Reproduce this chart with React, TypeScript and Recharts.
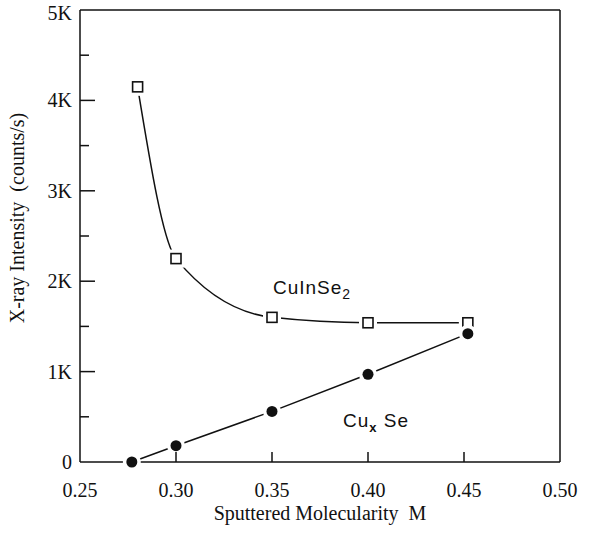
import { ComposedChart, Line, XAxis, YAxis, ReferenceDot } from "recharts";

// CuInSe2 (open squares)
const cuInSe2X = [0.28, 0.3, 0.35, 0.4, 0.452];
const cuInSe2Y = [4150, 2250, 1600, 1540, 1540];

// CuxSe (filled circles)
const cuSeX = [0.277, 0.3, 0.35, 0.4, 0.452];
const cuSeY = [0, 180, 560, 970, 1420];

const xTicks = [0.25, 0.3, 0.35, 0.4, 0.45, 0.5];
const yTicks = [0, 500, 1000, 1500, 2000, 2500, 3000, 3500, 4000, 4500, 5000];

const cuInSe2 = cuInSe2X.map((x, i) => ({ x, y: cuInSe2Y[i] }));
const cuSe = cuSeX.map((x, i) => ({ x, y: cuSeY[i] }));

const SERIF = "'Liberation Serif', 'Times New Roman', serif";
const SANS = "'Liberation Sans', Arial, sans-serif";
const INK = "#111";

const inner = (v: number) => v > 0.26 && v < 0.49;

const BottomTick = ({ x, y, payload }: any) => (
  <g>
    {inner(payload.value) && (
      <line x1={x} x2={x} y1={y} y2={y - 10} stroke={INK} strokeWidth={1.5} />
    )}
    <text
      x={x}
      y={y + 35}
      textAnchor="middle"
      fontFamily={SERIF}
      fontSize={20}
      fill={INK}
    >
      {payload.value.toFixed(2)}
    </text>
  </g>
);

const TopTick = ({ x, y, payload }: any) =>
  inner(payload.value) ? (
    <line x1={x} x2={x} y1={y} y2={y + 10} stroke={INK} strokeWidth={1.5} />
  ) : (
    <g />
  );

const LeftTick = ({ x, y, payload }: any) => {
  const v = payload.value;
  const major = v % 1000 === 0;
  return (
    <g>
      {v > 0 && v < 5000 && (
        <line
          x1={x}
          x2={x + (major ? 15 : 9)}
          y1={y}
          y2={y}
          stroke={INK}
          strokeWidth={1.5}
        />
      )}
      {major && (
        <text
          x={x - 8}
          y={y}
          dy={v === 5000 ? 10 : 7}
          textAnchor="end"
          fontFamily={SERIF}
          fontSize={20}
          fill={INK}
        >
          {v === 0 ? "0" : `${v / 1000}K`}
        </text>
      )}
    </g>
  );
};

const RightTick = ({ x, y, payload }: any) => {
  const v = payload.value;
  if (v <= 0 || v >= 5000) return <g />;
  const major = v % 1000 === 0;
  return (
    <line
      x1={x}
      x2={x - (major ? 15 : 9)}
      y1={y}
      y2={y}
      stroke={INK}
      strokeWidth={1.5}
    />
  );
};

const SquareDot = ({ cx, cy }: any) => (
  <g>
    <rect x={cx - 9} y={cy - 9} width={18} height={18} fill="#fff" />
    <rect
      x={cx - 5}
      y={cy - 5}
      width={10}
      height={10}
      fill="#fff"
      stroke={INK}
      strokeWidth={1.6}
    />
  </g>
);

const CircleDot = ({ cx, cy }: any) => (
  <g>
    <circle cx={cx} cy={cy} r={9} fill="#fff" />
    <circle cx={cx} cy={cy} r={5.5} fill={INK} />
  </g>
);

const App = () => {
  return (
    <div style={{ position: "absolute", left: 0, top: 0, background: "#fff" }}>
      <ComposedChart
        width={589}
        height={536}
        margin={{ top: 9, right: 28, bottom: 4, left: 0 }}
      >
        <XAxis
          xAxisId="b"
          dataKey="x"
          type="number"
          domain={[0.25, 0.5]}
          ticks={xTicks}
          height={70}
          tickSize={0}
          tickMargin={0}
          tickLine={false}
          tick={BottomTick}
          axisLine={{ stroke: INK, strokeWidth: 1.5 }}
          label={{
            content: ({ viewBox }: any) => (
              <text
                x={viewBox.x + viewBox.width / 2}
                y={viewBox.y + 58}
                textAnchor="middle"
                fontFamily={SERIF}
                fontSize={20}
                fill={INK}
              >
                Sputtered Molecularity{"\u00a0\u00a0"}M
              </text>
            ),
          }}
        />
        <XAxis
          xAxisId="t"
          orientation="top"
          type="number"
          domain={[0.25, 0.5]}
          ticks={xTicks}
          height={1}
          tickSize={0}
          tickMargin={0}
          tickLine={false}
          tick={TopTick}
          axisLine={{ stroke: INK, strokeWidth: 1.5 }}
        />
        <YAxis
          yAxisId="l"
          type="number"
          domain={[0, 5000]}
          ticks={yTicks}
          width={80}
          tickSize={0}
          tickMargin={0}
          tickLine={false}
          tick={LeftTick}
          interval={0}
          axisLine={{ stroke: INK, strokeWidth: 1.5 }}
          label={{
            content: () => (
              <text
                x={24}
                y={218}
                transform="rotate(-90 24 218)"
                textAnchor="middle"
                fontFamily={SERIF}
                fontSize={20}
                fill={INK}
              >
                X-ray Intensity{"\u00a0\u00a0"}(counts/s)
              </text>
            ),
          }}
        />
        <YAxis
          yAxisId="r"
          orientation="right"
          type="number"
          domain={[0, 5000]}
          ticks={yTicks}
          width={1}
          tickSize={0}
          tickMargin={0}
          tickLine={false}
          tick={RightTick}
          interval={0}
          axisLine={{ stroke: INK, strokeWidth: 1.5 }}
        />
        <Line
          xAxisId="b"
          yAxisId="l"
          data={cuInSe2}
          dataKey="y"
          type="monotone"
          stroke={INK}
          strokeWidth={1.5}
          dot={SquareDot}
          activeDot={false}
          isAnimationActive={false}
        />
        <Line
          xAxisId="b"
          yAxisId="l"
          data={cuSe}
          dataKey="y"
          type="linear"
          stroke={INK}
          strokeWidth={1.5}
          dot={CircleDot}
          activeDot={false}
          isAnimationActive={false}
        />
        <ReferenceDot
          xAxisId="b"
          yAxisId="l"
          x={0.3505}
          y={1860}
          r={0}
          shape={({ cx, cy }: any) => (
            <text x={cx} y={cy} fontFamily={SANS} fontSize={19} fill={INK} letterSpacing={1}>
              CuInSe
              <tspan fontSize={14} dy={5}>
                2
              </tspan>
            </text>
          )}
        />
        <ReferenceDot
          xAxisId="b"
          yAxisId="l"
          x={0.387}
          y={390}
          r={0}
          shape={({ cx, cy }: any) => (
            <text x={cx} y={cy} fontFamily={SANS} fontSize={19} fill={INK} letterSpacing={1}>
              Cu
              <tspan fontSize={13} fontWeight="bold" dy={5}>
                x
              </tspan>
              <tspan dy={-5}>{"\u00a0"}Se</tspan>
            </text>
          )}
        />
      </ComposedChart>
    </div>
  );
};

export default App;
